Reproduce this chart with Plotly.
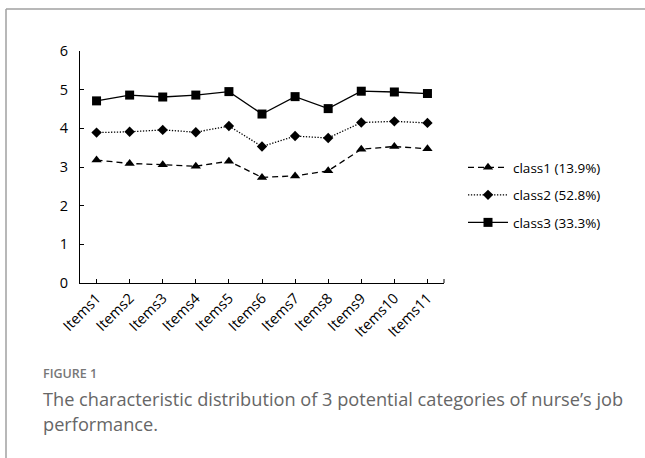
import plotly.graph_objects as go

items = ["Items1", "Items2", "Items3", "Items4", "Items5", "Items6",
         "Items7", "Items8", "Items9", "Items10", "Items11"]
class1 = [3.18, 3.09, 3.06, 3.02, 3.15, 2.73, 2.77, 2.90, 3.46, 3.53, 3.47]
class2 = [3.89, 3.91, 3.96, 3.90, 4.06, 3.53, 3.80, 3.75, 4.15, 4.18, 4.14]
class3 = [4.71, 4.86, 4.81, 4.86, 4.95, 4.37, 4.82, 4.51, 4.96, 4.94, 4.90]
names = ["class1 (13.9%)", "class2 (52.8%)", "class3 (33.3%)"]
y_ticks = [0, 1, 2, 3, 4, 5, 6]

W, H = 645, 458
L, R, T, B = 80, 444, 51, 283  # plot area in pixels

def px(x):
    return (x - L) / (R - L)

def py(y):
    return (B - y) / (B - T)

fig = go.Figure()
styles = [
    ("6px,4px", "triangle-up", 9),
    ("1.3px,1.6px", "diamond", 8),
    ("solid", "square", 9),
]
for i, (vals, nm) in enumerate(zip([class1, class2, class3], names)):
    dash, sym, sz = styles[i]
    fig.add_trace(go.Scatter(
        x=items, y=vals, name=nm, mode="lines+markers",
        line=dict(color="black", width=1.3, dash=dash),
        marker=dict(symbol=sym, size=sz, color="black"),
        legendgroup=f"g{i}",
    ))

font_family = "Open Sans, Noto Sans, DejaVu Sans, sans-serif"

fig.update_layout(
    width=W, height=H,
    margin=dict(l=L, r=W - R, t=T, b=H - B, pad=0),
    paper_bgcolor="white", plot_bgcolor="white",
    showlegend=True,
    legend=dict(
        x=px(463), y=py(152), xanchor="left", yanchor="top",
        font=dict(family=font_family, size=13.5, color="black"),
        tracegroupgap=7, itemwidth=40, bgcolor="rgba(0,0,0,0)",
    ),
    xaxis=dict(
        type="category", showline=True, linecolor="black", linewidth=1.2,
        ticks="inside", ticklen=4, tickcolor="black", tickwidth=1,
        tickangle=-45, tickfont=dict(family=font_family, size=14.5, color="black"),
        showgrid=False, zeroline=False, range=[-0.5, 10.5],
    ),
    yaxis=dict(
        range=[0, 6], tickvals=y_ticks, showline=True, linecolor="black",
        linewidth=1.2, ticks="inside", ticklen=4, tickcolor="black",
        tickfont=dict(family=font_family, size=14.5, color="black"),
        showgrid=False, zeroline=False, ticklabelstandoff=8,
    ),
)

# extra tick at right end of the x axis
fig.add_shape(type="line", xref="paper", yref="y",
              x0=1, x1=1, y0=0, y1=4 / (B - T) * 6,
              line=dict(color="black", width=1))

# outer frame (top and left borders)
fig.add_shape(type="line", xref="paper", yref="paper",
              x0=px(6), x1=px(W + 5), y0=py(9), y1=py(9),
              line=dict(color="#a0a0a0", width=1.5))
fig.add_shape(type="line", xref="paper", yref="paper",
              x0=px(6), x1=px(6), y0=py(9), y1=py(H + 5),
              line=dict(color="#a0a0a0", width=1.5))

# caption
fig.add_annotation(xref="paper", yref="paper", x=px(41), y=py(373),
                   xanchor="left", yanchor="middle", showarrow=False,
                   text="FIGURE 1",
                   font=dict(family=font_family, size=12.5, color="#777777",
                             weight=600))
fig.add_annotation(xref="paper", yref="paper", x=px(41), y=py(399),
                   xanchor="left", yanchor="middle", showarrow=False,
                   text="The characteristic distribution of 3 potential categories of nurse\u2019s job",
                   font=dict(family=font_family, size=18.2, color="#666666"))
fig.add_annotation(xref="paper", yref="paper", x=px(41), y=py(424),
                   xanchor="left", yanchor="middle", showarrow=False,
                   text="performance.",
                   font=dict(family=font_family, size=18.2, color="#666666"))

fig.write_html("out.html", post_script="document.body.style.margin='0';",
               config={"displayModeBar": False})
